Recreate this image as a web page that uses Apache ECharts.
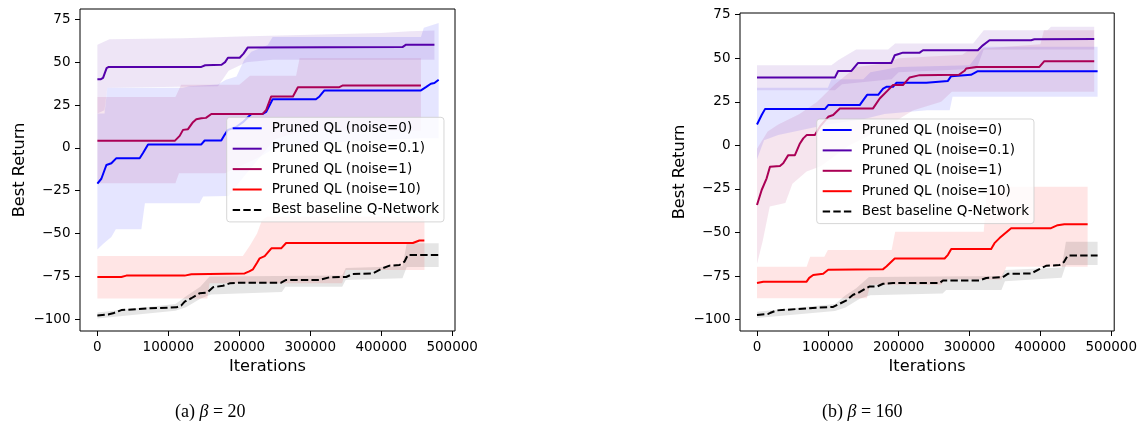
<!DOCTYPE html>
<html>
<head>
<meta charset="utf-8">
<script src="https://cdn.jsdelivr.net/npm/echarts@6/dist/echarts.min.js"></script>
<style>
  html, body { margin: 0; padding: 0; background: #fff; }
  #chart { width: 1140px; height: 430px; }
</style>
</head>
<body>
<div id="chart"></div>
<script>
// Legend entries and colours (blue -> red ramp over the noise levels, black baseline)
const seriesNames = [
  'Pruned QL (noise=0)',
  'Pruned QL (noise=0.1)',
  'Pruned QL (noise=1)',
  'Pruned QL (noise=10)',
  'Best baseline Q-Network'
];
const seriesColors = ['#0000ff', '#5500aa', '#aa0055', '#ff0000', '#000000'];

const xTicks = [0, 100000, 200000, 300000, 400000, 500000];
const yTicks = [-100, -75, -50, -25, 0, 25, 50, 75];

// ---------- (a) beta = 20 : [iteration, best return] ----------
const a_noise0_mean = [[0,-20.8],[5600,-18],[12700,-10],[15000,-9],[19700,-9],[26800,-6],[59600,-6],[64300,-3],[71400,2],[146500,2],[151200,4.3],[174600,4.3],[179300,7.6],[184000,10.5],[195000,12],[205000,15],[216900,19.8],[233000,19.8],[238000,21],[247000,28.4],[308000,28.4],[313000,30],[320000,33.5],[456000,33.5],[463000,35.4],[470000,37.4],[475000,37.8],[481000,39.7]];
const a_noise0_lo = [[0,-59.2],[8000,-56],[19700,-52],[26000,-47.5],[62000,-47.5],[67000,-32.3],[144000,-32.3],[149000,-28.4],[185000,-28],[200000,-20],[230000,-5],[250000,0],[320000,3],[456000,5.6],[481000,5.6]];
const a_noise0_hi = [[0,20],[10000,20],[14000,35],[120000,35],[130000,36],[170000,37],[181000,39.7],[196000,41.6],[207000,51.4],[217000,56],[240000,60],[247000,64.6],[456000,64.6],[460000,70],[481000,72.8]];

const a_noise01_mean = [[0,40.1],[5000,40.1],[8000,40.8],[13000,46.5],[16000,47.2],[146500,47.2],[152000,48.2],[175000,48.5],[180000,50],[184000,52.6],[200500,52.6],[206000,55],[212000,58.6],[430000,58.8],[435000,60.2],[475000,60.2]];
const a_noise01_lo = [[0,20],[10000,22],[14000,35],[170000,36],[185000,45],[210000,50],[247000,51.4],[475000,51.4]];
const a_noise01_hi = [[0,60.1],[10000,62],[17000,63.4],[120000,64],[200000,65],[300000,66],[400000,67],[440000,68],[475000,68.5]];

const a_noise1_mean = [[0,4.1],[109000,4.1],[116000,7],[120700,10.5],[127700,10.9],[134700,15],[139400,16.7],[146500,17.3],[153000,17.5],[160600,19.8],[233000,19.8],[238000,22.2],[245000,30],[275600,30],[282600,35.4],[341000,35.4],[346000,36.4],[456000,36.4]];
const a_noise1_lo = [[0,-20.6],[110000,-20.6],[115000,-14.8],[180000,-14.8],[230000,-5],[250000,5],[290000,10],[456000,10]];
const a_noise1_hi = [[0,29.7],[110000,29.7],[118000,36.8],[200000,36.8],[215000,42],[280000,42],[285000,52.3],[456000,52.3]];

const a_noise10_mean = [[0,-75.3],[33800,-75.3],[40800,-74.5],[123000,-74.5],[132400,-73.7],[207500,-73.2],[214000,-72],[219300,-70.8],[225000,-67],[228700,-64.4],[235800,-63.1],[245200,-58.6],[259000,-58.6],[266000,-55.5],[444600,-55.5],[453800,-54],[460800,-54]];
const a_noise10_lo = [[0,-87.8],[155000,-87.8],[158000,-79],[345000,-79],[350000,-71.2],[461000,-71.2]];
const a_noise10_hi = [[0,-63],[205000,-63],[215000,-57],[225000,-50],[232000,-42],[240000,-40],[461000,-40]];

const a_base_mean = [[0,-97.7],[15000,-97.2],[22000,-96.5],[33800,-94.6],[71400,-93.6],[111300,-93],[118000,-92],[123000,-89.7],[132400,-87.7],[144000,-84.8],[155000,-84.4],[163000,-81.3],[177000,-80.4],[186400,-79],[200500,-78.6],[259000,-78.6],[266000,-77],[313000,-77],[327000,-75.5],[350700,-75.3],[360000,-73.5],[388000,-73.2],[402000,-70.2],[411700,-68.7],[425800,-68.3],[432900,-66.3],[437500,-62.5],[481000,-62.5]];
const a_base_lo = [[0,-99.5],[110000,-95],[125000,-93],[145000,-88],[160000,-85.5],[260000,-84],[265000,-81],[345000,-81],[350000,-77],[430000,-76],[436000,-69.5],[481000,-69.5]];
const a_base_hi = [[0,-96],[110000,-91],[125000,-86.5],[145000,-81],[158000,-75],[345000,-74.5],[350000,-70],[430000,-69],[436000,-55.6],[481000,-55.6]];

// ---------- (b) beta = 160 ----------
const b_noise0_mean = [[0,12],[6600,17.4],[11300,20.8],[95800,20.8],[100500,23.1],[145000,23.1],[150000,26],[155400,29],[171000,29],[178000,32.6],[182600,33.6],[192000,33.6],[196700,35.9],[239000,36],[269500,37],[274000,39.7],[302000,40.5],[311700,42.6],[480750,42.6]];
const b_noise0_lo = [[0,-8],[10000,3],[30000,6],[100000,12],[150000,15],[180000,18],[240000,20.2],[272000,20.2],[276000,27.9],[480750,27.9]];
const b_noise0_hi = [[0,33],[100000,33],[105000,38],[150000,38],[160000,42],[200000,45],[300000,46],[320000,56.6],[480750,56.6]];

const b_noise01_mean = [[0,38.9],[109900,38.9],[114500,42.7],[133300,42.7],[142700,47.3],[189700,47.3],[194400,51.7],[199000,52.3],[206000,53.2],[229600,53.2],[234300,54.6],[311700,54.6],[318800,57.4],[328200,60.3],[386900,60.3],[391500,60.9],[476000,61]];
const b_noise01_lo = [[0,31.7],[110000,31.7],[120000,35],[190000,38],[200000,42],[310000,44],[320000,55],[476000,55]];
const b_noise01_hi = [[0,46],[105000,46],[115000,49],[140000,55],[185000,55],[195000,58.5],[305000,58.5],[320000,66],[410000,66],[415000,68],[476000,68]];

const b_noise1_mean = [[0,-34.2],[6600,-25.6],[13600,-18.9],[18300,-12.3],[32400,-11.8],[37000,-10.3],[44100,-5.6],[53500,-5.6],[60600,1.1],[65300,4],[70000,5.9],[81700,5.9],[88700,10.7],[100500,16.4],[107500,17.4],[116900,21.2],[163800,21.2],[173200,26.9],[185000,31.7],[192000,34.6],[206000,34.6],[215500,39],[229600,40.3],[285000,40.5],[292900,42.8],[295300,44.1],[309400,45],[398600,45],[405600,48.3],[476000,48.3]];
const b_noise1_lo = [[0,-68],[8000,-55],[18000,-35],[40000,-33],[50000,-22],[70000,-15],[90000,-12],[130000,0],[180000,10],[220000,20],[260000,25],[275000,30.7],[476000,30.7]];
const b_noise1_hi = [[0,-2],[15000,8],[30000,12],[60000,18],[85000,25],[110000,35],[140000,45],[180000,47],[200000,50],[290000,52],[300000,55],[400000,58],[405000,66],[476000,66]];

const b_noise10_mean = [[0,-79],[8900,-78.2],[70000,-78.2],[73700,-76],[79300,-74.4],[93400,-73.7],[100500,-71.4],[178000,-71],[182600,-69.5],[194400,-64.9],[264800,-64.9],[269500,-62.8],[274200,-59.5],[330500,-59.5],[335200,-56.1],[342300,-53.2],[358700,-47.5],[415000,-47.5],[424400,-45.8],[433800,-45.2],[466700,-45.2]];
const b_noise10_lo = [[0,-87.7],[155000,-87.7],[160000,-80],[260000,-80],[265000,-77],[345000,-77],[352000,-69.6],[466700,-69.6]];
const b_noise10_hi = [[0,-69.6],[70000,-69.6],[75000,-63.9],[95000,-63.9],[100000,-60],[190000,-60],[195000,-49.5],[320000,-49.5],[325000,-23.7],[466700,-23.7]];

const b_base_mean = [[0,-97.3],[15000,-96.8],[18300,-96.2],[27700,-94.7],[55900,-93.9],[84000,-93.1],[107500,-92.7],[116900,-90.8],[126300,-88.9],[135700,-85.7],[142700,-84.7],[152100,-82.4],[159200,-80.9],[170000,-80.9],[178000,-79.4],[192000,-79],[257700,-79],[262400,-77.5],[314100,-77.5],[323500,-76.1],[347000,-75.6],[354000,-73.7],[386900,-73.5],[398600,-71],[408000,-69.1],[426800,-68.7],[433000,-67],[438500,-63.2],[480750,-63.2]];
const b_base_lo = [[0,-99],[110000,-95],[125000,-93],[145000,-88],[160000,-86],[262000,-85],[267000,-83],[345000,-83],[350000,-78],[430000,-76],[436000,-68.6],[480750,-68.6]];
const b_base_hi = [[0,-95.5],[110000,-91],[125000,-86],[140000,-82],[158000,-75.5],[345000,-75],[350000,-71.5],[430000,-70],[436000,-55.3],[480750,-55.3]];

const captionA = ['(a) ', 'β', ' = 20'];
const captionB = ['(b) ', 'β', ' = 160'];

const panels = [
  { mean: [a_noise0_mean, a_noise01_mean, a_noise1_mean, a_noise10_mean, a_base_mean],
    lo:   [a_noise0_lo,   a_noise01_lo,   a_noise1_lo,   a_noise10_lo,   a_base_lo],
    hi:   [a_noise0_hi,   a_noise01_hi,   a_noise1_hi,   a_noise10_hi,   a_base_hi] },
  { mean: [b_noise0_mean, b_noise01_mean, b_noise1_mean, b_noise10_mean, b_base_mean],
    lo:   [b_noise0_lo,   b_noise01_lo,   b_noise1_lo,   b_noise10_lo,   b_base_lo],
    hi:   [b_noise0_hi,   b_noise01_hi,   b_noise1_hi,   b_noise10_hi,   b_base_hi] }
];

const FONT = 'DejaVu Sans';

function rgba(hex, a) {
  const n = parseInt(hex.slice(1), 16);
  return 'rgba(' + ((n >> 16) & 255) + ',' + ((n >> 8) & 255) + ',' + (n & 255) + ',' + a + ')';
}

// Shaded spread: one polygon running along the lower edge and back along the upper edge
function bandSeries(lo, hi, color, idx, tag) {
  const outline = lo.concat(hi.slice().reverse());
  return {
    type: 'custom',
    name: tag,
    xAxisIndex: idx, yAxisIndex: idx,
    silent: true,
    z: 1,
    data: [outline[0]],
    renderItem: function (params, api) {
      const pts = outline.map(function (p) { return api.coord(p); });
      return {
        type: 'polygon',
        shape: { points: pts },
        style: { fill: rgba(color, 0.1) }
      };
    }
  };
}

function lineSeries(name, data, color, idx, dashed) {
  return {
    type: 'line',
    name: name,
    xAxisIndex: idx, yAxisIndex: idx,
    data: data,
    symbol: 'none',
    z: 3,
    lineStyle: { color: color, width: 2, type: dashed ? [7.4, 3.2] : 'solid', cap: 'butt', join: 'round' },
    itemStyle: { color: color }
  };
}

const grids = [
  { left: 80, top: 9, width: 375, height: 322 },
  { left: 740, top: 13, width: 375, height: 318 }
];
const yRanges = [[-106.8, 81.0], [-106.5, 75.95]];
const xRanges = [[-24500, 504000], [-24000, 504200]];
const legendPos = [{ left: 226.7, top: 117.3 }, { left: 816.7, top: 119 }];

const series = [];
panels.forEach(function (p, gi) {
  for (let i = 0; i < seriesNames.length; i++) {
    series.push(bandSeries(p.lo[i], p.hi[i], seriesColors[i], gi, 'spread ' + gi + '-' + i));
  }
  for (let i = 0; i < seriesNames.length; i++) {
    series.push(lineSeries(seriesNames[i], p.mean[i], seriesColors[i], gi, i === 4));
  }
});

const axisText = { fontFamily: FONT, fontSize: 13.5, color: '#000' };

const option = {
  animation: false,
  backgroundColor: '#fff',
  grid: grids.map(function (g) {
    return Object.assign({ show: true, borderColor: '#000', borderWidth: 1, backgroundColor: 'transparent', containLabel: false }, g);
  }),
  xAxis: grids.map(function (g, i) {
    return {
      type: 'value', gridIndex: i,
      min: xRanges[i][0], max: xRanges[i][1],
      name: 'Iterations', nameLocation: 'middle', nameGap: 25,
      nameTextStyle: { fontFamily: FONT, fontSize: 16.2, color: '#000' },
      axisLine: { show: false, onZero: false },
      axisTick: { show: true, length: 5, lineStyle: { color: '#000', width: 1 }, customValues: xTicks },
      axisLabel: Object.assign({
        margin: 9, customValues: xTicks,
        formatter: function (v) { return String(v); }
      }, axisText),
      splitLine: { show: false }
    };
  }),
  yAxis: grids.map(function (g, i) {
    return {
      type: 'value', gridIndex: i,
      min: yRanges[i][0], max: yRanges[i][1],
      name: 'Best Return', nameLocation: 'middle', nameGap: 52, nameRotate: 90,
      nameTextStyle: { fontFamily: FONT, fontSize: 16.2, color: '#000' },
      axisLine: { show: false, onZero: false },
      axisTick: { show: true, length: 5, lineStyle: { color: '#000', width: 1 }, customValues: yTicks },
      axisLabel: Object.assign({
        margin: 9.5, customValues: yTicks,
        formatter: function (v) { return String(v).replace('-', '\u2212'); }
      }, axisText),
      splitLine: { show: false }
    };
  }),
  legend: legendPos.map(function (pos) {
    return {
      data: seriesNames,
      orient: 'vertical',
      left: pos.left, top: pos.top,
      padding: [4, 5, 5, 5],
      itemWidth: 29, itemHeight: 14, itemGap: 6.4,
      backgroundColor: 'rgba(255,255,255,0.8)',
      borderColor: 'rgba(204,204,204,0.8)', borderWidth: 1, borderRadius: 3,
      selectedMode: false,
      itemStyle: { opacity: 0 },
      textStyle: { fontFamily: FONT, fontSize: 13.5, color: '#000', lineHeight: 14, padding: [0, 0, 0, 5] }
    };
  }),
  graphic: [
    { cap: captionA, x: 175 },
    { cap: captionB, x: 822 }
  ].map(function (c) {
    return {
      type: 'text', left: c.x, top: 403,
      style: {
        text: '{n|' + c.cap[0] + '}{b|' + c.cap[1] + '}{n|' + c.cap[2] + '}',
        rich: {
          n: { fontFamily: 'Liberation Serif', fontSize: 18, fill: '#000', color: '#000' },
          b: { fontFamily: 'Liberation Serif', fontSize: 18, fontStyle: 'italic', fill: '#000', color: '#000' }
        }
      }
    };
  }),
  series: series
};

const chart = echarts.init(document.getElementById('chart'), null, { renderer: 'canvas' });
chart.setOption(option);
</script>
</body>
</html>
